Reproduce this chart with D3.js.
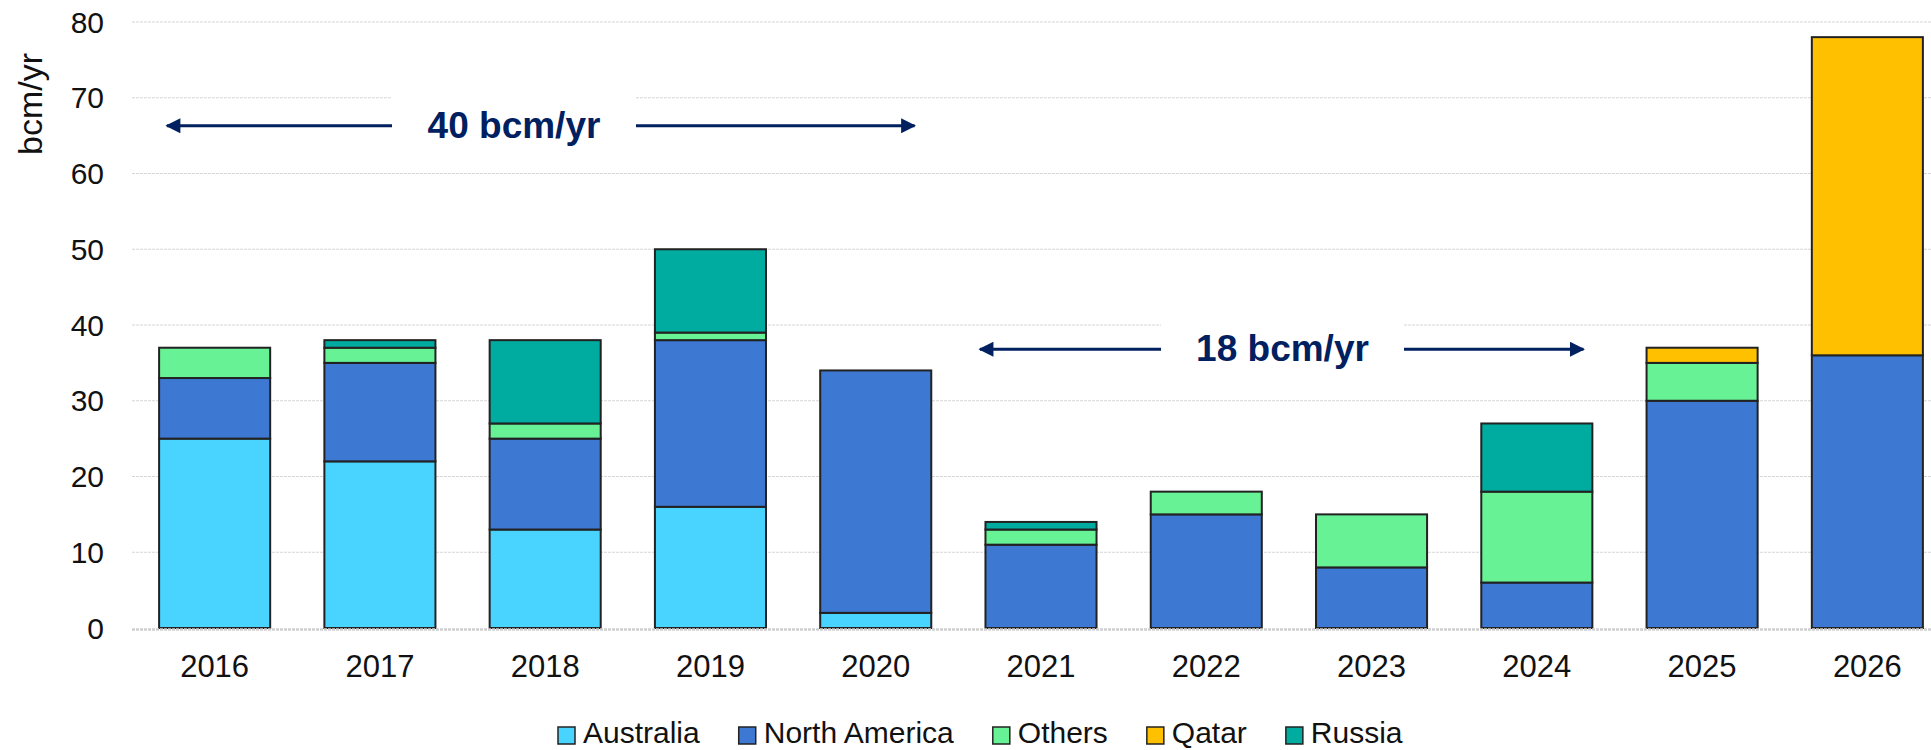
<!DOCTYPE html>
<html>
<head>
<meta charset="utf-8">
<script src="https://cdn.jsdelivr.net/npm/d3@7"></script>
<style>
  html, body { margin: 0; padding: 0; background: #fff; }
  svg { display: block; font-family: "Liberation Sans", Arial, sans-serif; }
</style>
</head>
<body>
<svg id="chart" width="1931" height="750"></svg>
<script>
// LNG liquefaction capacity additions by region, bcm/yr
const years = ["2016", "2017", "2018", "2019", "2020", "2021", "2022", "2023", "2024", "2025", "2026"];
const seriesNames = ["Australia", "North America", "Others", "Qatar", "Russia"];
const australia    = [25, 22, 13, 16,  2,  0,  0, 0, 0,  0,  0];
const northAmerica = [ 8, 13, 12, 22, 32, 11, 15, 8, 6, 30, 36];
const others       = [ 4,  2,  2,  1,  0,  2,  3, 7, 12, 5,  0];
const qatar        = [ 0,  0,  0,  0,  0,  0,  0, 0, 0,  2, 42];
const russia       = [ 0,  1, 11, 11,  0,  1,  0, 0, 9,  0,  0];
const seriesColors = ["#48D4FF", "#3D78D3", "#68F296", "#FFC000", "#00AB9F"];
const yTicks = [0, 10, 20, 30, 40, 50, 60, 70, 80];
const yLabel = "bcm/yr";

// Period annotations: label, start/end year with offset as fraction of bar width, level in bcm/yr
const periods = [
  { label: "40 bcm/yr", from: "2016", fromFrac: 0.07, to: "2020", toFrac: 0.85, level: 66.3, gapL: 392, gapR: 636 },
  { label: "18 bcm/yr", from: "2021", fromFrac: -0.05, to: "2024", toFrac: 0.92, level: 36.8, gapL: 1161, gapR: 1404 }
];

const rows = years.map((yr, i) => ({
  year: yr,
  "Australia": australia[i],
  "North America": northAmerica[i],
  "Others": others[i],
  "Qatar": qatar[i],
  "Russia": russia[i]
}));

const svg = d3.select("#chart");
const plotLeft = 132, plotRight = 1950, plotTop = 22, plotBottom = 628;

const x = d3.scaleBand().domain(years).range([plotLeft, plotRight]).paddingInner(0.328).paddingOuter(0.164);
const y = d3.scaleLinear().domain([0, 80]).range([plotBottom, plotTop]);
const color = d3.scaleOrdinal().domain(seriesNames).range(seriesColors);

// Gridlines
svg.append("g")
  .selectAll("line")
  .data(yTicks.filter(d => d > 0))
  .join("line")
  .attr("x1", plotLeft).attr("x2", 1931)
  .attr("y1", d => y(d)).attr("y2", d => y(d))
  .attr("stroke", "#d6d6d6").attr("stroke-width", 1.2)
  .attr("stroke-dasharray", "3,1");

// Y tick labels
svg.append("g")
  .selectAll("text")
  .data(yTicks)
  .join("text")
  .attr("x", 104)
  .attr("y", d => y(d))
  .attr("dy", "0.35em")
  .attr("text-anchor", "end")
  .attr("font-size", 30)
  .attr("fill", "#111")
  .text(d => d);

// Y axis title
svg.append("text")
  .attr("transform", `translate(42,104) rotate(-90)`)
  .attr("text-anchor", "middle")
  .attr("font-size", 34)
  .attr("fill", "#111")
  .text(yLabel);

// Stacked bars
const stacked = d3.stack().keys(seriesNames)(rows);
svg.append("g")
  .selectAll("g")
  .data(stacked)
  .join("g")
  .attr("fill", d => color(d.key))
  .selectAll("rect")
  .data(d => d.filter(s => s[1] - s[0] > 0))
  .join("rect")
  .attr("x", d => x(d.data.year))
  .attr("width", x.bandwidth())
  .attr("y", d => y(d[1]))
  .attr("height", d => y(d[0]) - y(d[1]))
  .attr("stroke", "#222")
  .attr("stroke-width", 2);

// Baseline
svg.append("line")
  .attr("x1", plotLeft).attr("x2", 1931)
  .attr("y1", y(0) + 1.5).attr("y2", y(0) + 1.5)
  .attr("stroke", "#d0d0d0").attr("stroke-width", 2.5)
  .attr("stroke-dasharray", "3,1");

// X labels
svg.append("g")
  .selectAll("text")
  .data(years)
  .join("text")
  .attr("x", d => x(d) + x.bandwidth() / 2)
  .attr("y", 677)
  .attr("text-anchor", "middle")
  .attr("font-size", 31)
  .attr("fill", "#111")
  .text(d => d);

// Period annotations
const navy = "#002060";
const defs = svg.append("defs");
defs.append("marker")
  .attr("id", "head")
  .attr("viewBox", "0 0 10 10")
  .attr("refX", 9).attr("refY", 5)
  .attr("markerWidth", 5.2).attr("markerHeight", 5)
  .attr("markerUnits", "strokeWidth")
  .attr("orient", "auto-start-reverse")
  .append("path")
  .attr("d", "M0,0 L10,5 L0,10 Z")
  .attr("fill", navy);

const ann = svg.append("g");
periods.forEach(p => {
  const yy = y(p.level);
  const x0 = x(p.from) + p.fromFrac * x.bandwidth();
  const x1 = x(p.to) + p.toFrac * x.bandwidth();
  // white box keeps gridlines clear behind the label
  ann.append("rect")
    .attr("x", p.gapL).attr("y", yy - 30)
    .attr("width", p.gapR - p.gapL).attr("height", 60)
    .attr("fill", "#fff");
  ann.append("line")
    .attr("x1", p.gapL).attr("x2", x0)
    .attr("y1", yy).attr("y2", yy)
    .attr("stroke", navy).attr("stroke-width", 3)
    .attr("marker-end", "url(#head)");
  ann.append("line")
    .attr("x1", p.gapR).attr("x2", x1)
    .attr("y1", yy).attr("y2", yy)
    .attr("stroke", navy).attr("stroke-width", 3)
    .attr("marker-end", "url(#head)");
  ann.append("text")
    .attr("x", (p.gapL + p.gapR) / 2)
    .attr("y", yy + 12)
    .attr("text-anchor", "middle")
    .attr("font-size", 37)
    .attr("font-weight", "bold")
    .attr("fill", navy)
    .text(p.label);
});

// Legend
const legend = svg.append("g");
let lx = 558;
seriesNames.forEach(name => {
  legend.append("rect")
    .attr("x", lx).attr("y", 727)
    .attr("width", 17).attr("height", 17)
    .attr("fill", color(name))
    .attr("stroke", "#222").attr("stroke-width", 1.5);
  const t = legend.append("text")
    .attr("x", lx + 25).attr("y", 743)
    .attr("font-size", 30)
    .attr("fill", "#111")
    .text(name);
  lx += 25 + t.node().getComputedTextLength() + 39;
});
</script>
</body>
</html>
